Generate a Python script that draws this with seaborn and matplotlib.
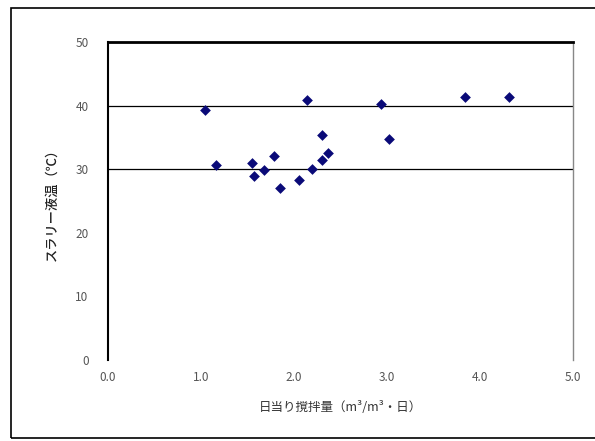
import matplotlib
matplotlib.use("Agg")
import matplotlib.pyplot as plt
import seaborn as sns
import pandas as pd
from matplotlib.patches import Rectangle

x_vals = [1.04, 1.16, 1.55, 1.57, 1.68, 1.79, 1.85, 2.05, 2.14, 2.19, 2.30, 2.37, 2.30, 2.94, 3.02, 3.84, 4.31]
y_vals = [39.3, 30.6, 30.9, 29.0, 29.9, 32.1, 27.0, 28.3, 40.9, 30.0, 31.4, 32.5, 35.4, 40.3, 34.7, 41.3, 41.3]
x_ticks = [0.0, 1.0, 2.0, 3.0, 4.0, 5.0]
y_ticks = [0, 10, 20, 30, 40, 50]
x_label = "日当り撹拌量（m³/m³・日）"
y_label = "スラリー液温（℃）"

sns.set_style("white")
plt.rcParams['font.family'] = ['Noto Sans CJK JP', 'DejaVu Sans']

df = pd.DataFrame({"x": x_vals, "y": y_vals})

fig = plt.figure(figsize=(5.95, 4.41), dpi=100)
fig.patches.append(Rectangle((11/595, 3/441), 1.0, 430/441, transform=fig.transFigure,
                             fill=False, edgecolor="black", linewidth=1.2, zorder=0))
ax = fig.add_axes([108/595, 81/441, 465/595, 318/441])

for yv in [30, 40]:
    ax.axhline(yv, color="black", linewidth=0.9, zorder=1)

sns.scatterplot(data=df, x="x", y="y", ax=ax, marker="D", s=30, color="#0a0a78",
                edgecolor="#0a0a78", linewidth=0, zorder=3)

ax.set_xlim(0, 5)
ax.set_ylim(0, 50)
ax.set_xticks(x_ticks)
ax.set_xticklabels([f"{t:.1f}" for t in x_ticks])
ax.set_yticks(y_ticks)
ax.set_yticklabels([str(t) for t in y_ticks])
ax.tick_params(axis="both", length=0, labelsize=8.5, labelcolor="#555555")
ax.tick_params(axis="x", pad=8)
ax.tick_params(axis="y", pad=14)

ax.spines["top"].set_linewidth(2.0)
ax.spines["top"].set_color("black")
ax.spines["left"].set_linewidth(1.5)
ax.spines["left"].set_color("black")
ax.spines["right"].set_linewidth(1.0)
ax.spines["right"].set_color("#888888")
ax.spines["bottom"].set_visible(False)

ax.set_xlabel(x_label, fontsize=9, color="#333333", labelpad=12)
ax.set_ylabel(y_label, fontsize=9.5, color="#222222", fontweight="medium", labelpad=12)

fig.savefig("out.png", dpi=100)
